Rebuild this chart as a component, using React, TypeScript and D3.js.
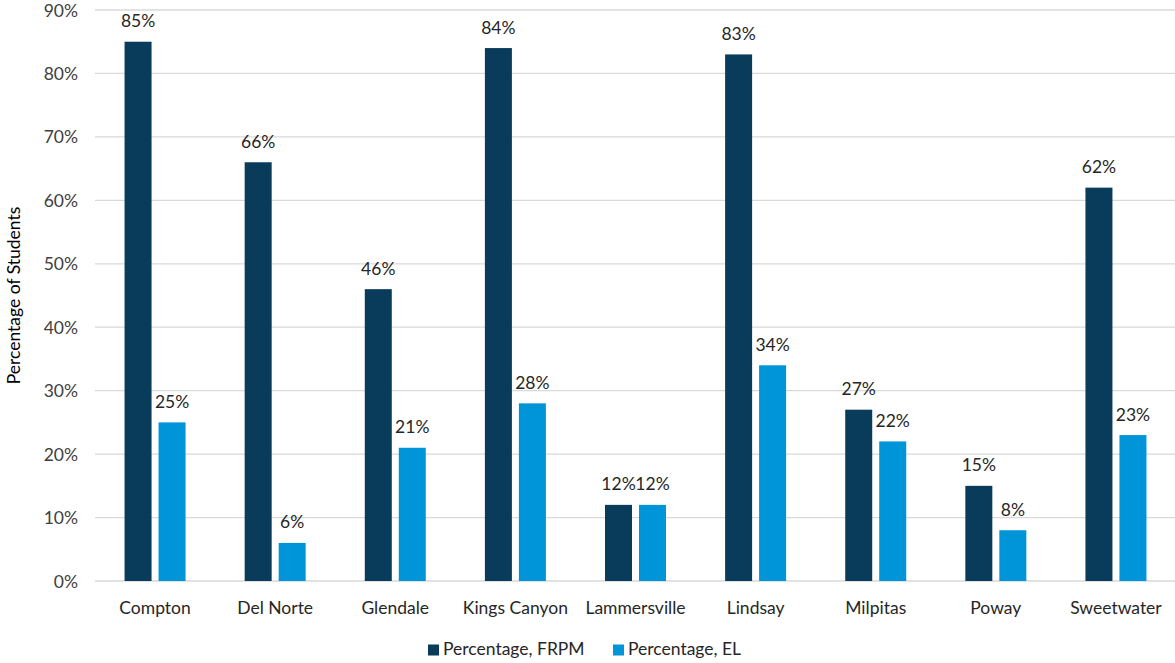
import * as d3 from 'd3'
import React from 'react'

const districts = ['Compton', 'Del Norte', 'Glendale', 'Kings Canyon', 'Lammersville', 'Lindsay', 'Milpitas', 'Poway', 'Sweetwater']
const frpm = [85, 66, 46, 84, 12, 83, 27, 15, 62]
const el = [25, 6, 21, 28, 12, 34, 22, 8, 23]
const seriesNames = ['Percentage, FRPM', 'Percentage, EL']
const yTicks = [0, 10, 20, 30, 40, 50, 60, 70, 80, 90]

const colors = ['#093b5b', '#0094d8']
const font = 'Lato, "Open Sans", sans-serif'
const fs = 17.5

const W = 1175
const H = 663
const margin = { top: 10, right: 0, bottom: 82, left: 95 }

export default function App() {
  const x = d3.scaleBand<string>().domain(districts).range([margin.left, W - margin.right + 1])
  const y = d3.scaleLinear().domain([0, 90]).range([H - margin.bottom, margin.top])
  const barW = 27
  const gap = 7
  const series = [frpm, el]

  return (
    <svg width={W} height={H} style={{ position: 'absolute', left: 0, top: 0, background: '#fff' }}>
      {/* gridlines */}
      {yTicks.map(t => (
        <line key={t} x1={margin.left} x2={W} y1={y(t)} y2={y(t)} stroke="#d9d9d9" strokeWidth={1.3} />
      ))}
      {/* y tick labels */}
      {yTicks.map(t => (
        <text key={t} x={78} y={y(t) + 6.5} textAnchor="end" fontFamily={font} fontSize={fs} fill="#404040">
          {t}%
        </text>
      ))}
      <text
        transform={`translate(20, ${(y(0) + y(90)) / 2}) rotate(-90)`}
        textAnchor="middle"
        fontFamily={font}
        fontSize={fs}
        fill="#000"
      >
        Percentage of Students
      </text>
      {/* bars */}
      {districts.map((d, i) => {
        const cx = (x(d) ?? 0) + x.bandwidth() / 2
        return series.map((s, j) => {
          const bx = j === 0 ? cx - gap / 2 - barW : cx + gap / 2
          return (
            <g key={`${d}-${j}`}>
              <rect x={bx} y={y(s[i])} width={barW} height={y(0) - y(s[i])} fill={colors[j]} />
              <text
                x={bx + barW / 2}
                y={y(s[i]) - 14.5}
                textAnchor="middle"
                fontFamily={font}
                fontSize={fs}
                fill="#262626"
              >
                {s[i]}%
              </text>
            </g>
          )
        })
      })}
      {/* x labels */}
      {districts.map(d => (
        <text
          key={d}
          x={(x(d) ?? 0) + x.bandwidth() / 2}
          y={614}
          textAnchor="middle"
          fontFamily={font}
          fontSize={fs}
          fill="#262626"
        >
          {d}
        </text>
      ))}
      {/* legend */}
      {seriesNames.map((n, j) => {
        const lx = j === 0 ? 428 : 613
        return (
          <g key={n}>
            <rect x={lx} y={644.5} width={11} height={11} fill={colors[j]} />
            <text x={lx + 15} y={655} fontFamily={font} fontSize={fs} fill="#262626">
              {n}
            </text>
          </g>
        )
      })}
    </svg>
  )
}
